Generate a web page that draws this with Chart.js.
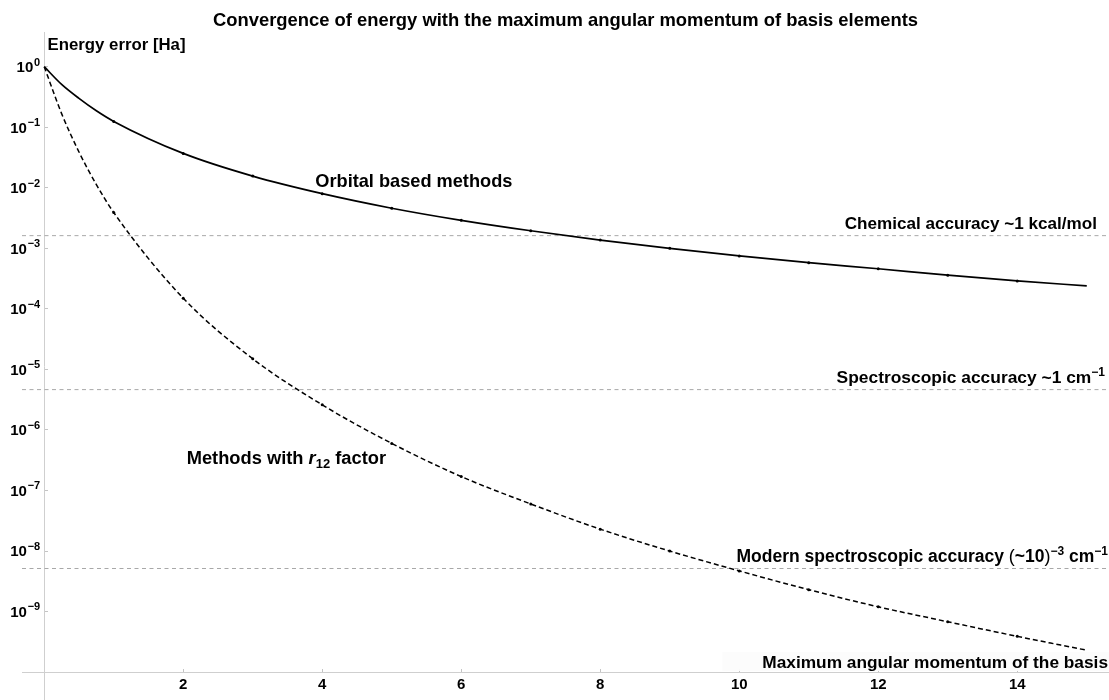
<!DOCTYPE html>
<html><head><meta charset="utf-8">
<script src="https://cdn.jsdelivr.net/npm/chart.js@4.4.1/dist/chart.umd.min.js"></script>
<style>html,body{margin:0;padding:0;background:#fff;overflow:hidden}#wrap{width:1109px;height:700px;position:relative}</style>
</head><body><div id="wrap"><canvas id="c"></canvas></div>
<script>
// ---- data ----
const chartTitle = 'Convergence of energy with the maximum angular momentum of basis elements';
const yAxisTitle = 'Energy error [Ha]';
const xAxisTitle = 'Maximum angular momentum of the basis';
const L = [0, 0.25, 0.5, 0.75, 1, 2, 3, 4, 5, 6, 7, 8, 9, 10, 11, 12, 13, 14, 15];
const orbital = [1, 0.51, 0.30, 0.187, 0.125, 0.037, 0.0156, 0.0080, 0.0046, 0.0029, 0.00195, 0.00137, 0.0010, 0.00075, 0.00058, 0.00046, 0.00036, 0.00029, 0.00024];
const r12 = [1, 0.168, 0.039, 0.0113, 3.9e-3, 1.5e-4, 1.5e-5, 2.6e-6, 6.0e-7, 1.7e-7, 6.0e-8, 2.3e-8, 1.0e-8, 4.7e-9, 2.3e-9, 1.2e-9, 6.8e-10, 3.9e-10, 2.3e-10];
const xTicks = [2, 4, 6, 8, 10, 12, 14];
const yTickExponents = [0, -1, -2, -3, -4, -5, -6, -7, -8, -9];
const refNames = ['Chemical accuracy ~1 kcal/mol', 'Spectroscopic accuracy ~1 cm⁻¹', 'Modern spectroscopic accuracy (~10)⁻³ cm⁻¹'];
const refValues = [1.62e-3, 4.64e-6, 5.15e-9];
const seriesNames = ['Orbital based methods', 'Methods with r12 factor'];

// ---- layout constants ----
const X_MIN = -0.32, X_MAX = 15.32;
const Y_MIN = Math.pow(10, -10.46), Y_MAX = Math.pow(10, 0.557);
const FONT = '"Liberation Sans", Arial, sans-serif';

const markerRadius = ctx => (ctx.raw && Number.isInteger(ctx.raw.x) && ctx.raw.x > 0 && ctx.raw.x < 15) ? 1.5 : 0;
const datasets = [
  { label: seriesNames[0], data: L.map((l, i) => ({x: l, y: orbital[i]})),
    borderColor: '#000', borderWidth: 1.7, pointRadius: markerRadius, pointBackgroundColor: '#000', pointBorderWidth: 0,
    cubicInterpolationMode: 'monotone' },
  { label: seriesNames[1], data: L.map((l, i) => ({x: l, y: r12[i]})),
    borderColor: '#000', borderWidth: 1.5, borderDash: [5, 3], pointRadius: markerRadius, pointBackgroundColor: '#000', pointBorderWidth: 0,
    cubicInterpolationMode: 'monotone' }
].concat(refValues.map((v, i) => ({
  label: refNames[i], data: [{x: X_MIN, y: v}, {x: X_MAX, y: v}],
  borderColor: '#a8a8a8', borderWidth: 1, borderDash: [4, 3.5], pointRadius: 0
})));

function fontOf(p) { return `${p.style || ''} ${p.weight || 'bold'} ${p.size}px ${FONT}`; }
function drawText(ctx, parts, x, baseline, align, bg) {
  let w = 0;
  parts.forEach(p => { ctx.font = fontOf(p); p.w = ctx.measureText(p.t).width; w += p.w; });
  let sx = align === 'right' ? x - w : align === 'center' ? x - w / 2 : x;
  if (bg) { ctx.fillStyle = bg.color; ctx.fillRect(sx - bg.pad, bg.top, w + bg.pad * 2, bg.h); }
  ctx.fillStyle = '#000'; ctx.textBaseline = 'alphabetic'; ctx.textAlign = 'left';
  parts.forEach(p => { ctx.font = fontOf(p); ctx.fillText(p.t, sx, baseline + (p.dy || 0)); sx += p.w; });
}

const labelsPlugin = {
  id: 'labels',
  afterDatasetsDraw(chart) {
    const {ctx, scales: {x, y}} = chart;
    ctx.save();
    const ax = x.getPixelForValue(0);
    y.ticks.forEach(t => {
      const py = y.getPixelForValue(t.value);
      const e = Math.round(Math.log10(t.value));
      const expText = e === 0 ? '0' : '\u2212' + Math.abs(e);
      drawText(ctx, [{t: '10', size: 15}, {t: ' ', size: 3}, {t: expText, size: 11, dy: -6.5}], ax - 4, py + 5.3, 'right');
    });
    drawText(ctx, [{t: yAxisTitle, size: 16.8}], 47.5, 50, 'left');
    drawText(ctx, [{t: seriesNames[0], size: 18.2}], x.getPixelForValue(3.9), y.getPixelForValue(Math.pow(10, -1.99)), 'left');
    const sp = 6.8;
    drawText(ctx, [{t: 'Chemical accuracy ~1 kcal/mol', size: 17.1}], 1097, y.getPixelForValue(refValues[0]) - sp, 'right');
    drawText(ctx, [{t: 'Spectroscopic accuracy ~1 cm', size: 17.4}, {t: '\u22121', size: 12, dy: -7}], 1105, y.getPixelForValue(refValues[1]) - sp, 'right');
    drawText(ctx, [{t: 'Modern spectroscopic accuracy ', size: 17.5}, {t: '(', size: 18, weight: 'normal'}, {t: '~10', size: 17.5},
                   {t: ')', size: 18, weight: 'normal'}, {t: '\u22123', size: 12, dy: -7}, {t: ' cm', size: 17.5}, {t: '\u22121', size: 12, dy: -7}],
      1108, y.getPixelForValue(refValues[2]) - sp, 'right');
    drawText(ctx, [{t: 'Methods with ', size: 18.3}, {t: 'r', size: 18.3, style: 'italic'}, {t: '12', size: 13, dy: 4}, {t: ' factor', size: 18.3}],
      x.getPixelForValue(2.05), y.getPixelForValue(Math.pow(10, -6.56)), 'left');
    drawText(ctx, [{t: xAxisTitle, size: 17.3}], 1108, 668, 'right', {color: 'rgba(252,252,252,0.95)', pad: 40, top: 652, h: 19});
    ctx.restore();
  }
};

new Chart(document.getElementById('c'), {
  type: 'line',
  data: { datasets },
  plugins: [labelsPlugin],
  options: {
    responsive: true, maintainAspectRatio: false, animation: false,
    events: [],
    elements: { point: { hoverRadius: 0, hitRadius: 0 } },
    layout: { padding: { left: 22, right: 0, top: 0, bottom: 0 } },
    plugins: {
      legend: { display: false }, tooltip: { enabled: false },
      title: { display: true, text: chartTitle, color: '#000', font: { family: FONT, size: 18.4, weight: 'bold', lineHeight: 1.2 }, padding: { top: 9.5, bottom: 1.4 } }
    },
    scales: {
      x: {
        type: 'linear', min: X_MIN, max: X_MAX, position: { y: 1e-10 },
        afterBuildTicks: s => { s.ticks = xTicks.map(v => ({value: v})); },
        grid: { drawOnChartArea: false, drawTicks: true, tickLength: -4, color: '#c4c4c4' },
        border: { color: '#cfcfcf', width: 1 },
        ticks: { color: '#000', font: { family: FONT, size: 15, weight: 'bold' }, padding: 8, maxRotation: 0 }
      },
      y: {
        type: 'logarithmic', min: Y_MIN, max: Y_MAX, position: { x: 0 },
        afterBuildTicks: s => { s.ticks = yTickExponents.map(e => ({value: Math.pow(10, e)})); },
        grid: { drawOnChartArea: false, drawTicks: true, tickLength: -4, color: '#c4c4c4' },
        border: { color: '#cfcfcf', width: 1 },
        ticks: { display: false, padding: 0 }
      }
    }
  }
});
</script></body></html>
